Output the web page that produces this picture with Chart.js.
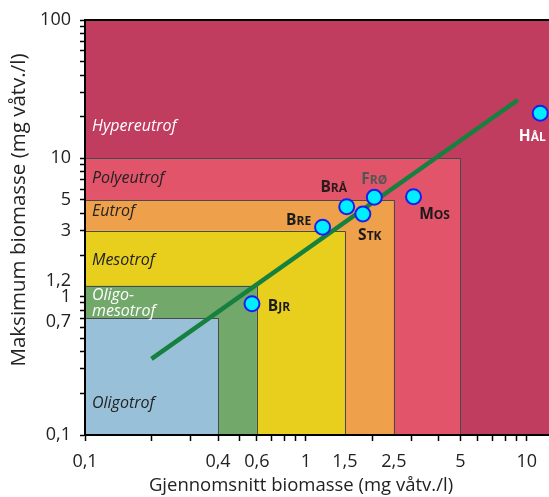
<!DOCTYPE html>
<html>
<head>
<meta charset="utf-8">
<script src="https://cdn.jsdelivr.net/npm/chart.js@4.4.1/dist/chart.umd.min.js"></script>
<style>
  html, body { margin: 0; padding: 0; background: #fff; }
</style>
</head>
<body>
<canvas id="bioChart" width="549" height="497"></canvas>
<script>
// lakes and their biomass values (mg wet weight per litre)
const lakes = ['BJR', 'BRE', 'BRÅ', 'STK', 'FRØ', 'MOS', 'HÅL'];
const meanBiomass = [0.57, 1.19, 1.53, 1.81, 2.04, 3.07, 11.5];
const maxBiomass = [0.89, 3.18, 4.47, 3.96, 5.23, 5.28, 21.2];

// regression line end points
const trendMean = [0.2, 9.1];
const trendMax = [0.355, 26.4];

// trophic classes, limits for mean and maximum biomass
const classNames = ['Oligotrof', 'Oligo-mesotrof', 'Mesotrof', 'Eutrof', 'Polyeutrof', 'Hypereutrof'];
const classMeanLimit = [0.4, 0.6, 1.5, 2.5, 5, 12.6];
const classMaxLimit = [0.7, 1.2, 3, 5, 10, 100];

// labelled ticks
const xTickValues = [0.1, 0.4, 0.6, 1, 1.5, 2.5, 5, 10];
const xTickLabels = ['0,1', '0,4', '0,6', '1', '1,5', '2,5', '5', '10'];
const yTickValues = [0.1, 0.7, 1, 1.2, 3, 5, 10, 100];
const yTickLabels = ['0,1', '0,7', '1', '1,2', '3', '5', '10', '100'];

const xTitle = 'Gjennomsnitt biomasse (mg våtv./l)';
const yTitle = 'Maksimum biomasse (mg våtv./l)';

const classColors = ['#98c0d8', '#72a86a', '#e8cf1e', '#eea04a', '#e2546a', '#c13d5f'];
const classTextColors = ['#222', '#fff', '#222', '#222', '#222', '#fff'];
const classTextAt = [0.17, 0.9, 1.83, 4.1, 7.2, 16.9];
const labelOffsets = [[27, 2], [-24, -8], [-13, -20], [7, 21], [0, -19], [21, 17], [-8, 22]];
const labelColors = ['#1a1a1a', '#1a1a1a', '#2a1a1a', '#1a1a1a', '#555', '#1a1a1a', '#fff'];

const X_MIN = 0.1, X_MAX = 12.6, Y_MIN = 0.1, Y_MAX = 100;

// log ticks 1..9 per decade, plus the labelled ones
function logTicks(min, max, extra) {
    const out = [];
    for (let d = min; d < max; d *= 10) {
        for (let k = 1; k <= 9; k++) {
            const v = Number((k * d).toPrecision(6));
            if (v <= max) out.push(v);
        }
    }
    extra.forEach(v => { if (!out.includes(v)) out.push(v); });
    return out.sort((a, b) => a - b);
}
const xTicks = logTicks(X_MIN, X_MAX, xTickValues);
const yTicks = logTicks(Y_MIN, Y_MAX, yTickValues);

function findLabel(values, labels, v) {
    const i = values.findIndex(t => Math.abs(t - v) < 1e-9);
    return i >= 0 ? labels[i] : '';
}

const zonePlugin = {
    id: 'zones',
    beforeDraw(chart) {
        const { ctx, chartArea, scales: { x, y } } = chart;
        const left = chartArea.left, bottom = chartArea.bottom;
        ctx.save();
        for (let i = classNames.length - 1; i >= 0; i--) {
            const right = Math.min(x.getPixelForValue(classMeanLimit[i]), chartArea.right);
            const top = y.getPixelForValue(classMaxLimit[i]);
            ctx.fillStyle = classColors[i];
            ctx.fillRect(left, top, right - left, bottom - top);
            if (i < classNames.length - 1) {
                ctx.strokeStyle = '#4a4a4a';
                ctx.lineWidth = 1;
                ctx.beginPath();
                ctx.moveTo(left, Math.round(top) + 0.5);
                ctx.lineTo(Math.round(right) + 0.5, Math.round(top) + 0.5);
                ctx.lineTo(Math.round(right) + 0.5, bottom);
                ctx.stroke();
            }
        }
        // class names
        ctx.font = 'italic 16px "Open Sans"';
        ctx.textBaseline = 'middle';
        ctx.textAlign = 'left';
        classNames.forEach((name, i) => {
            ctx.fillStyle = classTextColors[i];
            const cy = y.getPixelForValue(classTextAt[i]);
            if (name.includes('-')) {
                const parts = name.split('-');
                ctx.fillText(parts[0] + '-', left + 7, cy - 8);
                ctx.fillText(parts[1], left + 7, cy + 8);
            } else {
                ctx.fillText(name, left + 7, cy);
            }
        });
        // top frame line
        ctx.strokeStyle = '#000';
        ctx.lineWidth = 2;
        ctx.beginPath();
        ctx.moveTo(left, chartArea.top);
        ctx.lineTo(chartArea.right, chartArea.top);
        ctx.stroke();

        // axis titles (the plot is cut on the right, so they sit left of centre)
        ctx.fillStyle = '#222';
        ctx.textAlign = 'center';
        ctx.font = '18.5px "Open Sans"';
        ctx.fillText(xTitle, 301, 486);
        ctx.translate(19, 210);
        ctx.rotate(-Math.PI / 2);
        ctx.font = '20.5px "Open Sans"';
        ctx.fillText(yTitle, 0, 0);
        ctx.restore();
    }
};

const labelPlugin = {
    id: 'lakeLabels',
    afterDatasetsDraw(chart) {
        const { ctx } = chart;
        const meta = chart.getDatasetMeta(1);
        ctx.save();
        ctx.textBaseline = 'alphabetic';
        ctx.textAlign = 'left';
        meta.data.forEach((pt, i) => {
            const name = lakes[i];
            const cx = pt.x + labelOffsets[i][0];
            const cy = pt.y + labelOffsets[i][1];
            ctx.font = 'bold 15.5px "Open Sans"';
            const w1 = ctx.measureText(name[0]).width;
            ctx.font = 'bold 12px "Open Sans"';
            const w2 = ctx.measureText(name.slice(1)).width;
            const tx = cx - (w1 + w2) / 2;
            const base = cy + 5.5;
            ctx.fillStyle = labelColors[i];
            ctx.font = 'bold 15.5px "Open Sans"';
            ctx.fillText(name[0], tx, base);
            ctx.font = 'bold 12px "Open Sans"';
            ctx.fillText(name.slice(1), tx + w1, base);
        });
        ctx.restore();
    }
};

const ctx = document.getElementById('bioChart').getContext('2d');
new Chart(ctx, {
    type: 'scatter',
    data: {
        datasets: [{
            label: 'Trend',
            data: trendMean.map((v, i) => ({ x: v, y: trendMax[i] })),
            showLine: true,
            borderColor: '#16803e',
            borderWidth: 4.5,
            pointRadius: 0,
            order: 2
        }, {
            label: 'Innsjøer',
            data: meanBiomass.map((v, i) => ({ x: v, y: maxBiomass[i] })),
            backgroundColor: '#00eeff',
            borderColor: '#1c1cf0',
            borderWidth: 2,
            pointRadius: 7.5,
            order: 1
        }]
    },
    options: {
        responsive: false,
        animation: false,
        layout: { autoPadding: false, padding: { top: 20, right: 0, left: 0, bottom: 0 } },
        plugins: {
            legend: { display: false },
            tooltip: { enabled: false }
        },
        scales: {
            x: {
                type: 'logarithmic',
                min: X_MIN,
                max: X_MAX,
                afterBuildTicks: (scale) => { scale.ticks = xTicks.map(v => ({ value: v })); },
                afterFit: (scale) => { scale.height = 62; },
                ticks: {
                    autoSkip: false,
                    maxRotation: 0,
                    padding: 10,
                    color: '#222',
                    font: { family: 'Open Sans', size: 18 },
                    callback: (v) => findLabel(xTickValues, xTickLabels, v)
                },
                grid: {
                    drawOnChartArea: false,
                    tickLength: 6,
                    tickWidth: 1.5,
                    tickColor: (c) => (c.tick && (c.tick.value === 1.5 || c.tick.value === 2.5)) ? 'rgba(0,0,0,0)' : '#000'
                },
                border: { color: '#000', width: 2 }
            },
            y: {
                type: 'logarithmic',
                min: Y_MIN,
                max: Y_MAX,
                afterBuildTicks: (scale) => { scale.ticks = yTicks.map(v => ({ value: v })); },
                afterFit: (scale) => { scale.width = 85; },
                ticks: {
                    autoSkip: false,
                    padding: 9,
                    color: '#222',
                    font: (c) => {
                        const v = c.tick ? c.tick.value : null;
                        if (v === 1.2) return { family: 'Open Sans', size: 18, lineHeight: 0.5 };
                        if (v === 0.7) return { family: 'Open Sans', size: 18, lineHeight: 0.45 };
                        return { family: 'Open Sans', size: 18 };
                    },
                    callback: (v) => {
                        const s = findLabel(yTickValues, yTickLabels, v);
                        if (v === 1.2) return [s, ''];
                        if (v === 0.7) return ['', s];
                        return s;
                    }
                },
                grid: {
                    drawOnChartArea: false,
                    tickLength: 5,
                    tickWidth: 1.5,
                    tickColor: (c) => (c.tick && c.tick.value === 1.2) ? 'rgba(0,0,0,0)' : '#000'
                },
                border: { color: '#000', width: 2 }
            }
        }
    },
    plugins: [zonePlugin, labelPlugin]
});
</script>
</body>
</html>
